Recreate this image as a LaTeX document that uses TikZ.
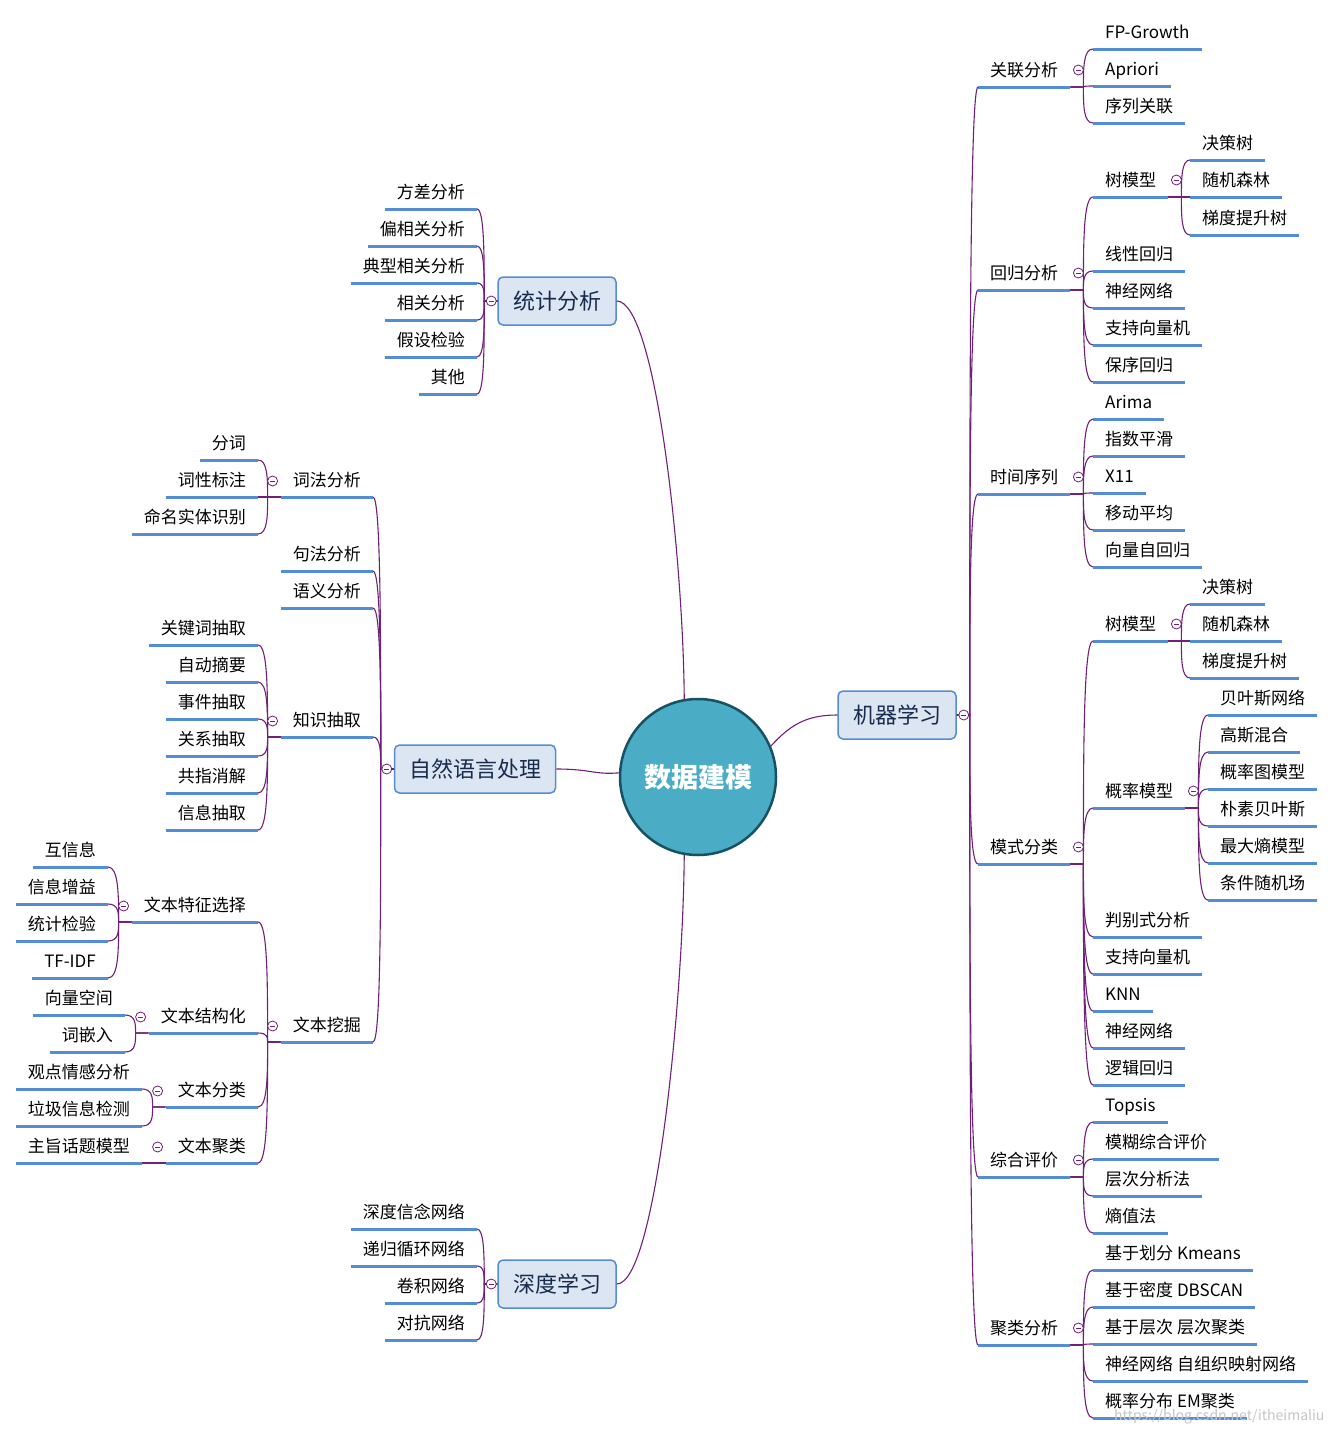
\documentclass[tikz,border=0pt]{standalone}
\usepackage{fontspec}
\usepackage{tikz}
\usetikzlibrary{calc}
\newfontfamily\cjk{Noto Sans CJK SC}
\definecolor{lineblue}{RGB}{84,141,212}
\definecolor{linkpurple}{RGB}{112,32,120}
\definecolor{boxfill}{RGB}{220,230,242}
\definecolor{topictext}{RGB}{23,43,77}
\definecolor{hubfill}{RGB}{75,172,198}
\definecolor{hubedge}{RGB}{22,82,98}
\newcommand{\leaffont}{\cjk\fontsize{17}{20}\selectfont}
\newcommand{\topicfont}{\cjk\fontsize{22}{26}\selectfont}
\newcommand{\hubfont}{\cjk\bfseries\fontsize{27}{32}\selectfont}
\tikzstyle{uline} = [draw=lineblue, line width=3pt]
\tikzstyle{leaf} = [font=\leaffont, inner xsep=12pt, inner ysep=0pt, text height=23.5pt, text depth=10.5pt, append after command={(\tikzlastnode.south west) edge[uline] (\tikzlastnode.south east)}]
\tikzstyle{rleaf} = [leaf, anchor=south west]
\tikzstyle{lleaf} = [leaf, anchor=south east]
\tikzstyle{topic} = [rectangle, rounded corners=5pt, draw=lineblue, line width=1.5pt, fill=boxfill, minimum width=118pt, minimum height=48pt, font=\topicfont, text=topictext]
\tikzstyle{hub} = [circle, draw=hubedge, line width=2.5pt, fill=hubfill, minimum size=156pt, inner sep=0pt, font=\hubfont, text=white]
\tikzstyle{link} = [draw=linkpurple, line width=1.1pt]
\tikzstyle{fold} = [circle, draw=linkpurple, fill=white, line width=0.8pt, minimum size=10pt, inner sep=0pt, path picture={\draw[linkpurple, line width=0.8pt] ([xshift=-2.6pt]path picture bounding box.center) -- ([xshift=2.6pt]path picture bounding box.center);}]
\tikzset{
  rlink/.style={link, to path={-- ++(13,0) coordinate (fk) .. controls ($(fk)!0.5!(fk |- \tikztotarget)$) and (fk |- \tikztotarget) .. (\tikztotarget)}},
  llink/.style={link, to path={-- ++(-13,0) coordinate (fk) .. controls ($(fk)!0.5!(fk |- \tikztotarget)$) and (fk |- \tikztotarget) .. (\tikztotarget)}}
}
\begin{document}
\begin{tikzpicture}[x=1pt, y=-1pt]
\fill[white] (0,0) rectangle (1335,1435);
\useasboundingbox (0,0) rectangle (1335,1435);

\node (hub) [hub] at (698,777) {数据建模};
\node (tjfx) [topic] at (557,301) {统计分析};
\node (zryy) [topic, minimum width=161pt] at (475,769) {自然语言处理};
\node (sdxx) [topic] at (557,1284) {深度学习};
\node (jqxx) [topic] at (897,715) {机器学习};

% 机器学习
\node (glfx) [rleaf] at (978,87) {关联分析};
\node (hgfx) [rleaf] at (978,290) {回归分析};
\node (sjxl) [rleaf] at (978,494) {时间序列};
\node (msfl) [rleaf] at (978,864) {模式分类};
\node (zhpj) [rleaf] at (978,1177) {综合评价};
\node (jlfx) [rleaf] at (978,1345) {聚类分析};

\node (fpg) [rleaf] at (1093,49) {FP-Growth};
\node (apr) [rleaf] at (1093,86) {Apriori};
\node (xlgl) [rleaf] at (1093,123) {序列关联};

\node (hg-tree) [rleaf] at (1093,197) {树模型};
\node (hg-xx) [rleaf] at (1093,271) {线性回归};
\node (hg-sj) [rleaf] at (1093,308) {神经网络};
\node (hg-svm) [rleaf] at (1093,345) {支持向量机};
\node (hg-bx) [rleaf] at (1093,382) {保序回归};
\node (hg-jcs) [rleaf] at (1190,160) {决策树};
\node (hg-sjsl) [rleaf] at (1190,197) {随机森林};
\node (hg-tdts) [rleaf] at (1190,235) {梯度提升树};

\node (arima) [rleaf] at (1093,419) {Arima};
\node (zsph) [rleaf] at (1093,456) {指数平滑};
\node (x11) [rleaf] at (1093,493) {X11};
\node (ydpj) [rleaf] at (1093,530) {移动平均};
\node (xlzhg) [rleaf] at (1093,567) {向量自回归};

\node (ms-tree) [rleaf] at (1093,641) {树模型};
\node (ms-jcs) [rleaf] at (1190,604) {决策树};
\node (ms-sjsl) [rleaf] at (1190,641) {随机森林};
\node (ms-tdts) [rleaf] at (1190,678) {梯度提升树};
\node (glmx) [rleaf] at (1093,808) {概率模型};
\node (bysw) [rleaf] at (1208,715) {贝叶斯网络};
\node (gshh) [rleaf] at (1208,752) {高斯混合};
\node (gltmx) [rleaf] at (1208,789) {概率图模型};
\node (psbys) [rleaf] at (1208,826) {朴素贝叶斯};
\node (zdsmx) [rleaf] at (1208,863) {最大熵模型};
\node (tjsjc) [rleaf] at (1208,900) {条件随机场};
\node (pbs) [rleaf] at (1093,937) {判别式分析};
\node (ms-svm) [rleaf] at (1093,974) {支持向量机};
\node (knn) [rleaf] at (1093,1011) {KNN};
\node (ms-sj) [rleaf] at (1093,1048) {神经网络};
\node (ljhg) [rleaf] at (1093,1085) {逻辑回归};

\node (topsis) [rleaf] at (1093,1122) {Topsis};
\node (mhzh) [rleaf] at (1093,1159) {模糊综合评价};
\node (ccfx) [rleaf] at (1093,1196) {层次分析法};
\node (szf) [rleaf] at (1093,1233) {熵值法};

\node (kmeans) [rleaf] at (1093,1270) {基于划分 Kmeans};
\node (dbscan) [rleaf] at (1093,1307) {基于密度 DBSCAN};
\node (ccjl) [rleaf] at (1093,1344) {基于层次 层次聚类};
\node (som) [rleaf] at (1093,1381) {神经网络 自组织映射网络};
\node (em) [rleaf] at (1093,1418) {概率分布 EM聚类};

% 统计分析
\node (fcfx) [lleaf] at (477,209) {方差分析};
\node (pxgfx) [lleaf] at (477,246) {偏相关分析};
\node (dxxg) [lleaf] at (477,283) {典型相关分析};
\node (xgfx) [lleaf] at (477,320) {相关分析};
\node (jsjy) [lleaf] at (477,357) {假设检验};
\node (qt) [lleaf] at (477,394) {其他};

% 自然语言处理
\node (cffx) [lleaf] at (373,497) {词法分析};
\node (fc) [lleaf] at (258,460) {分词};
\node (cxbz) [lleaf] at (258,497) {词性标注};
\node (mmst) [lleaf] at (258,534) {命名实体识别};
\node (jffx) [lleaf] at (373,571) {句法分析};
\node (yyfx) [lleaf] at (373,608) {语义分析};
\node (zscq) [lleaf] at (373,737) {知识抽取};
\node (gjc) [lleaf] at (258,645) {关键词抽取};
\node (zdzy) [lleaf] at (258,682) {自动摘要};
\node (sjcq) [lleaf] at (258,719) {事件抽取};
\node (gxcq) [lleaf] at (258,756) {关系抽取};
\node (gzxj) [lleaf] at (258,793) {共指消解};
\node (xxcq) [lleaf] at (258,830) {信息抽取};
\node (wbwj) [lleaf] at (373,1042) {文本挖掘};
\node (tzxz) [lleaf] at (258,922) {文本特征选择};
\node (hxx) [lleaf] at (108,867) {互信息};
\node (xxzy) [lleaf] at (108,904) {信息增益};
\node (tjjy) [lleaf] at (108,941) {统计检验};
\node (tfidf) [lleaf] at (108,978) {TF-IDF};
\node (jgh) [lleaf] at (258,1033) {文本结构化};
\node (xlkj) [lleaf] at (125,1015) {向量空间};
\node (cqr) [lleaf] at (125,1052) {词嵌入};
\node (wbfl) [lleaf] at (258,1107) {文本分类};
\node (gdqg) [lleaf] at (142,1089) {观点情感分析};
\node (ljxx) [lleaf] at (142,1126) {垃圾信息检测};
\node (wbjl) [lleaf] at (258,1163) {文本聚类};
\node (ztht) [lleaf] at (142,1163) {主旨话题模型};

% 深度学习
\node (sdxn) [lleaf] at (477,1229) {深度信念网络};
\node (dgxh) [lleaf] at (477,1266) {递归循环网络};
\node (jjwl) [lleaf] at (477,1303) {卷积网络};
\node (dkwl) [lleaf] at (477,1340) {对抗网络};

\draw [link] (tjfx.east) .. controls +(39,0) and +(-1,-140) .. (hub.100);
\draw [link] (sdxx.east) .. controls +(39,0) and +(-1,145) .. (hub.260);
\draw [link] (zryy.east) .. controls +(35,0) and +(-25,2) .. (hub.177);
\draw [link] (hub.23) .. controls +(20,-22) and +(-30,0) .. (jqxx.west);

\draw [rlink] (jqxx.east) to (glfx.south west);
\draw [rlink] (jqxx.east) to (hgfx.south west);
\draw [rlink] (jqxx.east) to (sjxl.south west);
\draw [rlink] (jqxx.east) to (msfl.south west);
\draw [rlink] (jqxx.east) to (zhpj.south west);
\draw [rlink] (jqxx.east) to (jlfx.south west);
\draw [rlink] (glfx.south east) to (fpg.south west);
\draw [rlink] (glfx.south east) to (apr.south west);
\draw [rlink] (glfx.south east) to (xlgl.south west);
\draw [rlink] (hgfx.south east) to (hg-tree.south west);
\draw [rlink] (hgfx.south east) to (hg-xx.south west);
\draw [rlink] (hgfx.south east) to (hg-sj.south west);
\draw [rlink] (hgfx.south east) to (hg-svm.south west);
\draw [rlink] (hgfx.south east) to (hg-bx.south west);
\draw [rlink] (hg-tree.south east) to (hg-jcs.south west);
\draw [rlink] (hg-tree.south east) to (hg-sjsl.south west);
\draw [rlink] (hg-tree.south east) to (hg-tdts.south west);
\draw [rlink] (sjxl.south east) to (arima.south west);
\draw [rlink] (sjxl.south east) to (zsph.south west);
\draw [rlink] (sjxl.south east) to (x11.south west);
\draw [rlink] (sjxl.south east) to (ydpj.south west);
\draw [rlink] (sjxl.south east) to (xlzhg.south west);
\draw [rlink] (msfl.south east) to (ms-tree.south west);
\draw [rlink] (msfl.south east) to (glmx.south west);
\draw [rlink] (msfl.south east) to (pbs.south west);
\draw [rlink] (msfl.south east) to (ms-svm.south west);
\draw [rlink] (msfl.south east) to (knn.south west);
\draw [rlink] (msfl.south east) to (ms-sj.south west);
\draw [rlink] (msfl.south east) to (ljhg.south west);
\draw [rlink] (ms-tree.south east) to (ms-jcs.south west);
\draw [rlink] (ms-tree.south east) to (ms-sjsl.south west);
\draw [rlink] (ms-tree.south east) to (ms-tdts.south west);
\draw [rlink] (glmx.south east) to (bysw.south west);
\draw [rlink] (glmx.south east) to (gshh.south west);
\draw [rlink] (glmx.south east) to (gltmx.south west);
\draw [rlink] (glmx.south east) to (psbys.south west);
\draw [rlink] (glmx.south east) to (zdsmx.south west);
\draw [rlink] (glmx.south east) to (tjsjc.south west);
\draw [rlink] (zhpj.south east) to (topsis.south west);
\draw [rlink] (zhpj.south east) to (mhzh.south west);
\draw [rlink] (zhpj.south east) to (ccfx.south west);
\draw [rlink] (zhpj.south east) to (szf.south west);
\draw [rlink] (jlfx.south east) to (kmeans.south west);
\draw [rlink] (jlfx.south east) to (dbscan.south west);
\draw [rlink] (jlfx.south east) to (ccjl.south west);
\draw [rlink] (jlfx.south east) to (som.south west);
\draw [rlink] (jlfx.south east) to (em.south west);

\draw [llink] (tjfx.west) to (fcfx.south east);
\draw [llink] (tjfx.west) to (pxgfx.south east);
\draw [llink] (tjfx.west) to (dxxg.south east);
\draw [llink] (tjfx.west) to (xgfx.south east);
\draw [llink] (tjfx.west) to (jsjy.south east);
\draw [llink] (tjfx.west) to (qt.south east);

\draw [llink] (zryy.west) to (cffx.south east);
\draw [llink] (zryy.west) to (jffx.south east);
\draw [llink] (zryy.west) to (yyfx.south east);
\draw [llink] (zryy.west) to (zscq.south east);
\draw [llink] (zryy.west) to (wbwj.south east);
\draw [llink] (cffx.south west) to (fc.south east);
\draw [llink] (cffx.south west) to (cxbz.south east);
\draw [llink] (cffx.south west) to (mmst.south east);
\draw [llink] (zscq.south west) to (gjc.south east);
\draw [llink] (zscq.south west) to (zdzy.south east);
\draw [llink] (zscq.south west) to (sjcq.south east);
\draw [llink] (zscq.south west) to (gxcq.south east);
\draw [llink] (zscq.south west) to (gzxj.south east);
\draw [llink] (zscq.south west) to (xxcq.south east);
\draw [llink] (wbwj.south west) to (tzxz.south east);
\draw [llink] (wbwj.south west) to (jgh.south east);
\draw [llink] (wbwj.south west) to (wbfl.south east);
\draw [llink] (wbwj.south west) to (wbjl.south east);
\draw [llink] (tzxz.south west) to (hxx.south east);
\draw [llink] (tzxz.south west) to (xxzy.south east);
\draw [llink] (tzxz.south west) to (tjjy.south east);
\draw [llink] (tzxz.south west) to (tfidf.south east);
\draw [llink] (jgh.south west) to (xlkj.south east);
\draw [llink] (jgh.south west) to (cqr.south east);
\draw [llink] (wbfl.south west) to (gdqg.south east);
\draw [llink] (wbfl.south west) to (ljxx.south east);
\draw [llink] (wbjl.south west) to (ztht.south east);

\draw [llink] (sdxx.west) to (sdxn.south east);
\draw [llink] (sdxx.west) to (dgxh.south east);
\draw [llink] (sdxx.west) to (jjwl.south east);
\draw [llink] (sdxx.west) to (dkwl.south east);

\node (f-jqxx) [fold] at ([xshift=7pt]jqxx.east) {};
\node (f-tjfx) [fold] at ([xshift=-6pt]tjfx.west) {};
\node (f-zryy) [fold] at ([xshift=-7pt]zryy.west) {};
\node (f-sdxx) [fold] at ([xshift=-6pt]sdxx.west) {};
\node (f-glfx) [fold] at ([shift={(8pt,17pt)}]glfx.south east) {};
\node (f-hgfx) [fold] at ([shift={(8pt,17pt)}]hgfx.south east) {};
\node (f-sjxl) [fold] at ([shift={(8pt,17pt)}]sjxl.south east) {};
\node (f-msfl) [fold] at ([shift={(8pt,17pt)}]msfl.south east) {};
\node (f-zhpj) [fold] at ([shift={(8pt,17pt)}]zhpj.south east) {};
\node (f-jlfx) [fold] at ([shift={(8pt,17pt)}]jlfx.south east) {};
\node (f-hgtree) [fold] at ([shift={(8pt,17pt)}]hg-tree.south east) {};
\node (f-mstree) [fold] at ([shift={(8pt,17pt)}]ms-tree.south east) {};
\node (f-glmx) [fold] at ([shift={(8pt,17pt)}]glmx.south east) {};
\node (f-cffx) [fold] at ([shift={(-8pt,16pt)}]cffx.south west) {};
\node (f-zscq) [fold] at ([shift={(-8pt,16pt)}]zscq.south west) {};
\node (f-wbwj) [fold] at ([shift={(-8pt,16pt)}]wbwj.south west) {};
\node (f-tzxz) [fold] at ([shift={(-8pt,16pt)}]tzxz.south west) {};
\node (f-jgh) [fold] at ([shift={(-8pt,16pt)}]jgh.south west) {};
\node (f-wbfl) [fold] at ([shift={(-8pt,16pt)}]wbfl.south west) {};
\node (f-wbjl) [fold] at ([shift={(-8pt,16pt)}]wbjl.south west) {};

\node (mark) [font=\cjk\fontsize{14}{16}\selectfont, text=gray!45, anchor=east] at (1328,1417) {https://blog.csdn.net/itheimaliu};
\end{tikzpicture}
\end{document}
